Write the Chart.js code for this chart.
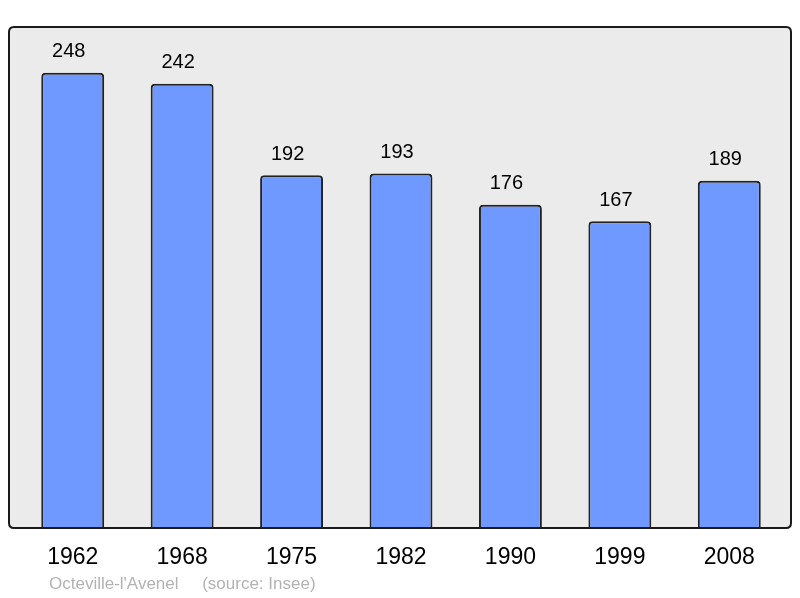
<!DOCTYPE html>
<html lang="fr">
<head>
    <meta charset="UTF-8">
    <title>Octeville-l'Avenel - population</title>
    <script src="https://cdn.jsdelivr.net/npm/chart.js"></script>
    <style>
        body { margin: 0; background: #fff; }
        #wrap { position: relative; width: 800px; height: 598px; }
        #source {
            position: absolute; left: 49px; top: 574px;
            font-family: "Liberation Sans", Arial, sans-serif;
            font-size: 17px; line-height: 20px; color: #b3b3b3; white-space: pre;
        }
    </style>
</head>
<body>
    <div id="wrap">
        <canvas id="pop-chart" width="800" height="598"></canvas>
        <div id="source">Octeville-l'Avenel     (source: Insee)</div>
    </div>

    <script>
        var years = ['1962', '1968', '1975', '1982', '1990', '1999', '2008'];
        var population = [248, 242, 192, 193, 176, 167, 189];
        var yMax = 273;

        function roundRect(ctx, x, y, w, h, r) {
            ctx.beginPath();
            ctx.moveTo(x + r, y);
            ctx.lineTo(x + w - r, y);
            ctx.quadraticCurveTo(x + w, y, x + w, y + r);
            ctx.lineTo(x + w, y + h - r);
            ctx.quadraticCurveTo(x + w, y + h, x + w - r, y + h);
            ctx.lineTo(x + r, y + h);
            ctx.quadraticCurveTo(x, y + h, x, y + h - r);
            ctx.lineTo(x, y + r);
            ctx.quadraticCurveTo(x, y, x + r, y);
            ctx.closePath();
        }

        // grey panel behind the bars, border drawn on top afterwards
        var panel = {
            id: 'panel',
            beforeDatasetsDraw: function(chart) {
                var ctx = chart.ctx;
                ctx.save();
                roundRect(ctx, 9, 27, 782, 501, 5);
                ctx.fillStyle = '#ebebeb';
                ctx.fill();
                ctx.restore();
            },
            afterDatasetsDraw: function(chart) {
                var ctx = chart.ctx;
                ctx.save();
                roundRect(ctx, 9, 27, 782, 501, 5);
                ctx.lineWidth = 2;
                ctx.strokeStyle = '#1a1a1a';
                ctx.stroke();

                // values above each bar
                var meta = chart.getDatasetMeta(0);
                ctx.fillStyle = '#000';
                ctx.font = '20px "Liberation Sans", Arial, sans-serif';
                ctx.textAlign = 'center';
                ctx.textBaseline = 'middle';
                meta.data.forEach(function(bar, i) {
                    ctx.fillText(population[i], bar.x - 4, bar.y - 21);
                });
                ctx.restore();
            }
        };

        var ctx = document.getElementById('pop-chart').getContext('2d');
        var popChart = new Chart(ctx, {
            type: 'bar',
            data: {
                labels: years,
                datasets: [{
                    data: population,
                    backgroundColor: '#7099ff',
                    borderColor: '#222222',
                    borderWidth: 2,
                    borderSkipped: 'bottom',
                    borderRadius: { topLeft: 4, topRight: 4 },
                    barPercentage: 0.575,
                    categoryPercentage: 1
                }]
            },
            options: {
                responsive: false,
                animation: false,
                layout: { padding: { left: 18, right: 16, top: 27, bottom: 0 } },
                plugins: {
                    legend: { display: false },
                    tooltip: { enabled: false }
                },
                scales: {
                    x: {
                        grid: { display: false, drawTicks: false },
                        border: { display: false },
                        ticks: {
                            color: '#000',
                            padding: 17,
                            font: { family: '"Liberation Sans", Arial, sans-serif', size: 23 }
                        },
                        afterFit: function(scale) { scale.height = 71; }
                    },
                    y: {
                        display: false,
                        min: 0,
                        max: yMax
                    }
                }
            },
            plugins: [panel]
        });
    </script>
</body>
</html>
